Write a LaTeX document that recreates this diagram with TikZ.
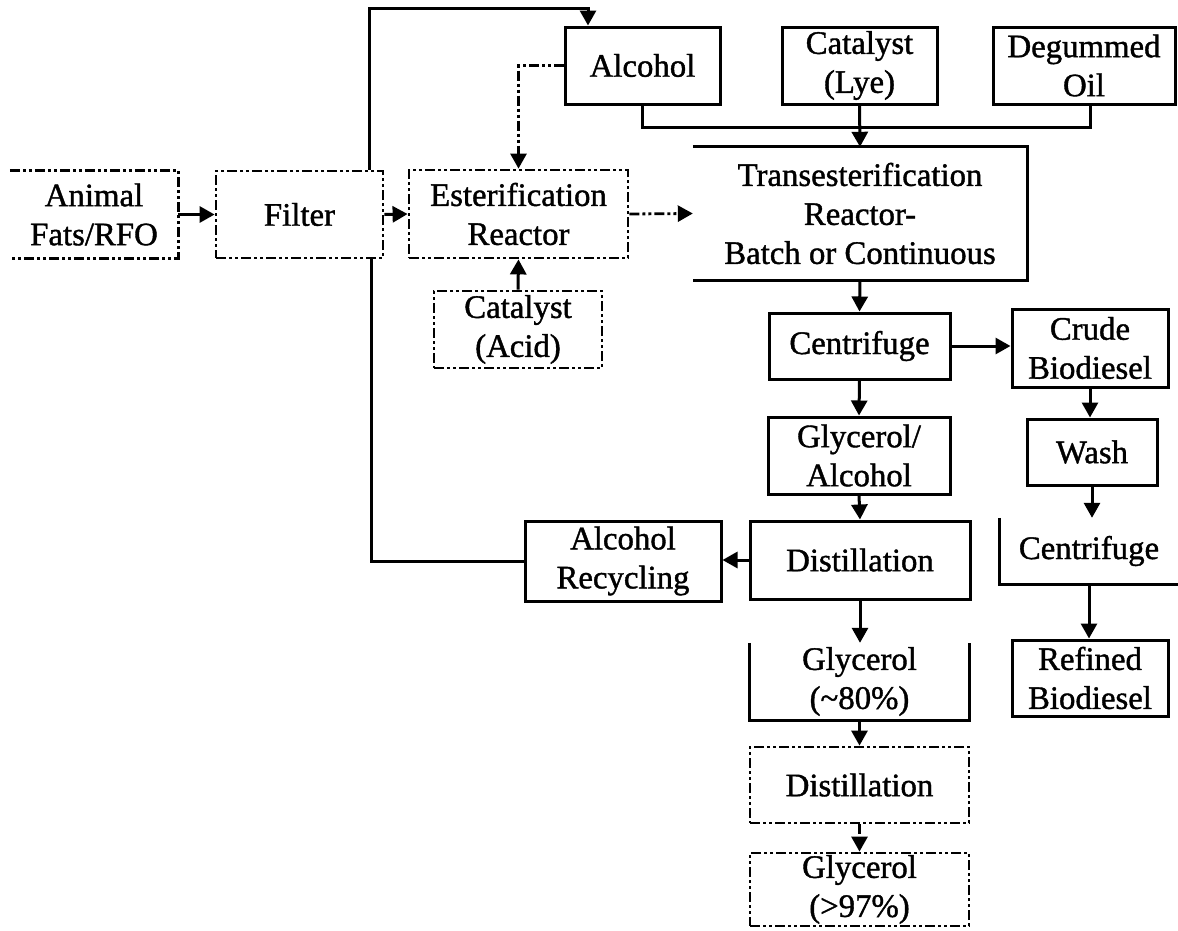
\documentclass[tikz,border=0pt]{standalone}
\usepackage{fontspec}
\setmainfont{Liberation Serif}[UprightFeatures={FakeBold=1.2}]
\usetikzlibrary{arrows.meta}
\begin{document}
\begin{tikzpicture}[x=1pt,y=-1pt,
  every node/.style={inner sep=0pt,align=center,font=\fontsize{32.8}{39}\selectfont},
  box/.style={draw,line width=3pt,minimum width=#1},
  plain/.style={minimum width=#1},
  dd/.style={dash pattern=on 10pt off 3pt on 3pt off 3pt on 3pt off 3pt},
  ddbox/.style={draw,line width=2.8pt,dd,minimum width=#1},
  conn/.style={line width=3pt},
  arr/.style={line width=3pt,-{Triangle[length=15pt,width=16pt]}},
  darr/.style={line width=2.8pt,dd,-{Triangle[length=15pt,width=16pt]}}
]
\useasboundingbox (0,0) rectangle (1178,930);

% nodes
\node[plain=168,minimum height=87] (fats) at (94,214.5) {Animal\\Fats/RFO};
\node[ddbox=167,minimum height=87] (filter) at (299.5,214.5) {Filter};
\node[ddbox=219,minimum height=88] (ester) at (518.5,214) {Esterification\\Reactor};
\node[ddbox=168,minimum height=77] (acid) at (518,329.5) {Catalyst\\(Acid)};
\node[box=155,minimum height=77] (alcohol) at (642.5,65.5) {Alcohol};
\node[box=155,minimum height=77] (lye) at (859.5,65.5) {Catalyst\\(Lye)};
\node[box=182,minimum height=77] (oil) at (1084,65.5) {Degummed\\Oil};
\node[plain=334,minimum height=133] (trans) at (860,213.5) {Transesterification\\Reactor-\\Batch or Continuous};
\node[box=181,minimum height=66] (cent1) at (859.5,346) {Centrifuge};
\node[box=156,minimum height=78] (crude) at (1090,348) {Crude\\Biodiesel};
\node[box=182,minimum height=77] (glyal) at (859,455.5) {Glycerol/\\Alcohol};
\node[box=220,minimum height=78] (dist1) at (860,560) {Distillation};
\node[box=196,minimum height=80] (recyc) at (623,561) {Alcohol\\Recycling};
\node[box=130,minimum height=66] (wash) at (1092,452) {Wash};
\node[plain=178,minimum height=66] (cent2) at (1089,551) {Centrifuge};
\node[box=156,minimum height=76] (refined) at (1090,678) {Refined\\Biodiesel};
\node[plain=219,minimum height=77] (gly80) at (859.5,681.5) {Glycerol\\(\textasciitilde80\%)};
\node[ddbox=219,minimum height=76] (dist2) at (859.5,785) {Distillation};
\node[ddbox=219,minimum height=73] (gly97) at (859.5,889.5) {Glycerol\\(>97\%)};

% partial borders
\draw[line width=2.8pt,dd] (fats.north west) -- (fats.north east) -- (fats.south east) -- (fats.south west);
\draw[conn] (trans.north west) -- (trans.north east) -- (trans.south east) -- (trans.south west);
\draw[conn] (cent2.north west) -- (cent2.south west) -- (cent2.south east);
\draw[conn] (gly80.north west) -- (gly80.south west) -- (gly80.south east) -- (gly80.north east);

% connectors
\draw[arr] (fats.east) -- (filter.west);
\draw[arr] (filter.east) -- (ester.west);
\draw[darr] (ester.east) -- (trans.west);
\draw[arr] ([xshift=69.5pt]filter.north) |- ([xshift=-54.5pt,yshift=17pt]alcohol.north) -- ([xshift=-54.5pt]alcohol.north);
\draw[conn] (recyc.west) -| ([xshift=71.5pt]filter.south);
\draw[darr] (alcohol.west) -| (ester.north);
\draw[arr] (acid.north) -- (ester.south);
\draw[conn] (alcohol.south) |- ([xshift=6pt,yshift=-22pt]oil.south) -- ([xshift=6pt]oil.south);
\draw[arr] (lye.south) -- (trans.north);
\draw[arr] (trans.south) -- (cent1.north);
\draw[arr] (cent1.east) -- (cent1.east -| crude.west);
\draw[arr] (cent1.south) -- (glyal.north);
\draw[arr] (glyal.south) -- (dist1.north);
\draw[arr] (dist1.west) -- (dist1.west -| recyc.east);
\draw[arr] (crude.south) -- (crude.south |- wash.north);
\draw[arr] (wash.south) -- (wash.south |- cent2.north);
\draw[arr] (cent2.south) -- (cent2.south |- refined.north);
\draw[arr] (dist1.south) -- (dist1.south |- gly80.north);
\draw[arr] (gly80.south) -- (dist2.north);
\draw[darr] (dist2.south) -- (gly97.north);
\end{tikzpicture}
\end{document}
